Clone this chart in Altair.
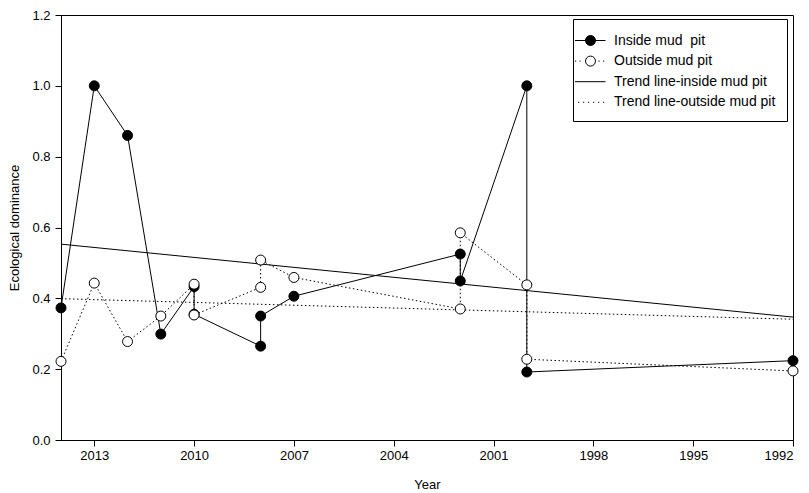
import altair as alt
import pandas as pd

# ---- data ----
years_inside = [2014, 2013, 2012, 2011, 2010, 2010, 2008, 2008, 2007, 2002, 2002, 2000, 2000, 1992]
dominance_inside = [0.373, 1.0, 0.86, 0.299, 0.433, 0.355, 0.265, 0.350, 0.406, 0.525, 0.449, 1.0, 0.192, 0.224]
years_outside = [2014, 2013, 2012, 2011, 2010, 2010, 2008, 2008, 2007, 2002, 2002, 2000, 2000, 1992]
dominance_outside = [0.222, 0.443, 0.278, 0.350, 0.440, 0.353, 0.431, 0.508, 0.459, 0.370, 0.585, 0.438, 0.228, 0.195]
trend_years = [2014, 1992]
trend_inside = [0.553, 0.347]
trend_outside = [0.399, 0.341]
series_names = ["Inside mud \u00a0pit", "Outside mud pit",
                "Trend line-inside mud pit", "Trend line-outside mud pit"]
x_ticks = [2013, 2010, 2007, 2004, 2001, 1998, 1995, 1992]
y_ticks = [0, 0.2, 0.4, 0.6, 0.8, 1.0, 1.2]

inside_df = pd.DataFrame({"year": years_inside, "value": dominance_inside,
                          "idx": list(range(len(years_inside)))})
outside_df = pd.DataFrame({"year": years_outside, "value": dominance_outside,
                           "idx": list(range(len(years_outside)))})
trend_in_df = pd.DataFrame({"year": trend_years, "value": trend_inside, "idx": [0, 1]})
trend_out_df = pd.DataFrame({"year": trend_years, "value": trend_outside, "idx": [0, 1]})
legend_df = pd.DataFrame({"series": series_names})

FONT = "Liberation Sans"

x_enc = alt.X("year:Q",
              scale=alt.Scale(domain=[1992, 2014], reverse=True, nice=False, zero=False),
              axis=alt.Axis(values=x_ticks, format="d", title="Year", tickSize=6,
                            labelPadding=3, titlePadding=16))
y_enc = alt.Y("value:Q",
              scale=alt.Scale(domain=[0, 1.2], nice=False, zero=False),
              axis=alt.Axis(values=y_ticks, format=".1f", title="Ecological dominance",
                            tickSize=6, labelPadding=5, titlePadding=10))
order_enc = alt.Order("idx:Q")

line_in = alt.Chart(inside_df).mark_line(color="black", strokeWidth=1).encode(
    x=x_enc, y=y_enc, order=order_enc)
line_out = alt.Chart(outside_df).mark_line(color="black", strokeWidth=1,
                                           strokeDash=[1.5, 2.5]).encode(
    x=x_enc, y=y_enc, order=order_enc)
trend_in = alt.Chart(trend_in_df).mark_line(color="black", strokeWidth=1).encode(
    x=x_enc, y=y_enc, order=order_enc)
trend_out = alt.Chart(trend_out_df).mark_line(color="black", strokeWidth=1,
                                              strokeDash=[1.5, 2.5]).encode(
    x=x_enc, y=y_enc, order=order_enc)
pts_in = alt.Chart(inside_df).mark_point(shape="circle", filled=True, fill="black",
                                         stroke="black", strokeWidth=1, size=100,
                                         opacity=1).encode(x=x_enc, y=y_enc)
pts_out = alt.Chart(outside_df).mark_point(shape="circle", filled=True, fill="white",
                                           stroke="black", strokeWidth=1, size=100,
                                           opacity=1).encode(x=x_enc, y=y_enc)


# ---- legend symbols (custom SVG paths, unit = 10px) ----
def dotted(a, b, step=0.45, length=0.12):
    parts = []
    x = a
    while x + length <= b + 1e-9:
        parts.append(f"M{x:.2f},0L{x + length:.2f},0")
        x += step
    return "".join(parts)


circle = "M-0.9,0A0.5,0.5,0,1,1,0.1,0A0.5,0.5,0,1,1,-0.9,0Z"
sym_inside = "M-1.95,0L1.1,0" + circle
sym_outside = dotted(-1.95, -1.1) + dotted(0.4, 1.1) + circle
sym_trend_in = "M-1.95,0L1.1,0"
sym_trend_out = dotted(-1.65, 1.1, step=0.5)

legend = alt.Legend(title=None, orient="none", legendX=512, legendY=4, padding=11,
                    strokeColor="black", fillColor="white", cornerRadius=0,
                    symbolSize=400, symbolStrokeColor="black", symbolStrokeWidth=1,
                    symbolOpacity=1, labelFontSize=14, labelFont=FONT, labelColor="black",
                    labelOffset=9, rowPadding=2.6, labelLimit=400)

legend_layer = alt.Chart(legend_df).mark_point(opacity=0, filled=False, color="black",
                                               stroke="black", strokeWidth=1).encode(
    shape=alt.Shape("series:N",
                    scale=alt.Scale(domain=series_names,
                                    range=[sym_inside, sym_outside, sym_trend_in, sym_trend_out]),
                    legend=legend),
    fill=alt.Fill("series:N",
                  scale=alt.Scale(domain=series_names,
                                  range=["black", "white", "transparent", "transparent"]),
                  legend=legend),
    stroke=alt.Stroke("series:N",
                      scale=alt.Scale(domain=series_names,
                                      range=["black", "black", "black", "black"]),
                      legend=legend),
)

chart = alt.layer(line_in, line_out, trend_in, trend_out, pts_in, pts_out, legend_layer).properties(
    width=732, height=425,
    autosize=alt.AutoSizeParams(type="none"),
    padding={"left": 53, "top": 7, "right": 8, "bottom": 52},
    background="white",
).configure_view(
    stroke="black", strokeWidth=1
).configure_axis(
    grid=False, domainColor="black", tickColor="black", labelColor="black",
    titleColor="black", labelFont=FONT, titleFont=FONT, labelFontSize=13,
    titleFontSize=13, titleFontWeight="normal", domainWidth=1, tickWidth=1,
)

chart.save("out.html", embed_options={"renderer": "svg", "actions": False})
